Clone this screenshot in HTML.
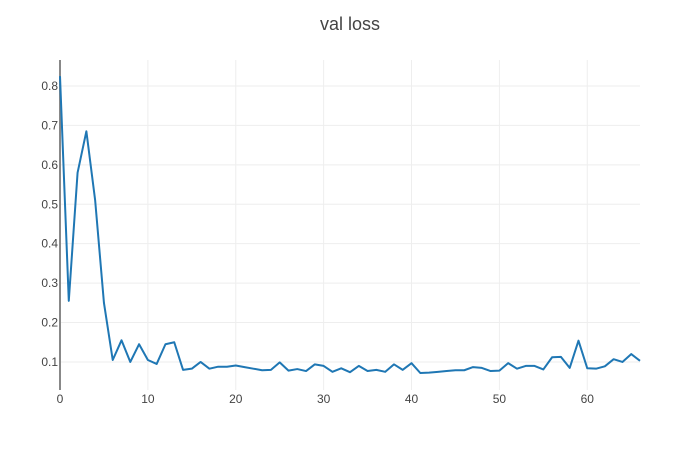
<!DOCTYPE html>
<html><head><meta charset="utf-8"><style>
body{margin:0;background:#fff;font-family:"Liberation Sans","DejaVu Sans",sans-serif;}
svg text{fill:#444;font-family:"Liberation Sans","DejaVu Sans",sans-serif;}
</style></head><body>
<svg id="chart" width="700" height="450" xmlns="http://www.w3.org/2000/svg">
<text x="350" y="30" text-anchor="middle" font-size="18">val loss</text>
<g id="grid"></g><g id="axes"></g><g id="series"></g>
</svg>
<script>
const xTicks=[0,10,20,30,40,50,60];
const yTicks=[0.1,0.2,0.3,0.4,0.5,0.6,0.7,0.8];
const yTickLabels=["0.1","0.2","0.3","0.4","0.5","0.6","0.7","0.8"];
const lossValues=[0.825,0.255,0.58,0.685,0.51,0.25,0.105,0.155,0.1,0.145,0.105,0.095,0.145,0.15,0.08,0.083,0.1,0.083,0.088,0.088,0.091,0.087,0.083,0.079,0.08,0.099,0.078,0.082,0.077,0.094,0.09,0.075,0.084,0.074,0.09,0.077,0.08,0.075,0.094,0.08,0.097,0.072,0.073,0.075,0.077,0.079,0.079,0.087,0.085,0.077,0.078,0.097,0.083,0.09,0.09,0.081,0.112,0.113,0.085,0.154,0.084,0.083,0.089,0.107,0.1,0.12,0.103];
const NS="http://www.w3.org/2000/svg";
const L=60,R=640,T=60,B=390,xMax=66;
const xs=v=>L+v*(R-L)/xMax;
const ys=v=>401.4-v*394.3;
function mk(tag,attrs,parent){const e=document.createElementNS(NS,tag);for(const k in attrs)e.setAttribute(k,attrs[k]);document.getElementById(parent).appendChild(e);return e;}
xTicks.forEach(t=>{
  if(t>0){const g=mk('line',{x1:xs(t),x2:xs(t),y1:T,y2:B,stroke:'#eee','stroke-width':1},'grid');
  
  }
  const l=mk('text',{x:xs(t),y:403,'text-anchor':'middle','font-size':12},'axes');l.textContent=t;
  
  
});
yTicks.forEach((t,i)=>{
  const g=mk('line',{x1:L,x2:R,y1:ys(t),y2:ys(t),stroke:'#eee','stroke-width':1},'grid');
  
  
  const l=mk('text',{x:58,y:ys(t)+4,'text-anchor':'end','font-size':12},'axes');l.textContent=yTickLabels[i];
  
  
});
const ax=mk('line',{x1:L,x2:L,y1:T,y2:B,stroke:'#888','stroke-width':2},'axes');


const p=mk('polyline',{points:lossValues.map((v,i)=>xs(i)+','+ys(v)).join(' '),fill:'none',stroke:'#1f77b4','stroke-width':2,'stroke-linejoin':'round'},'series');


</script>
</body></html>
